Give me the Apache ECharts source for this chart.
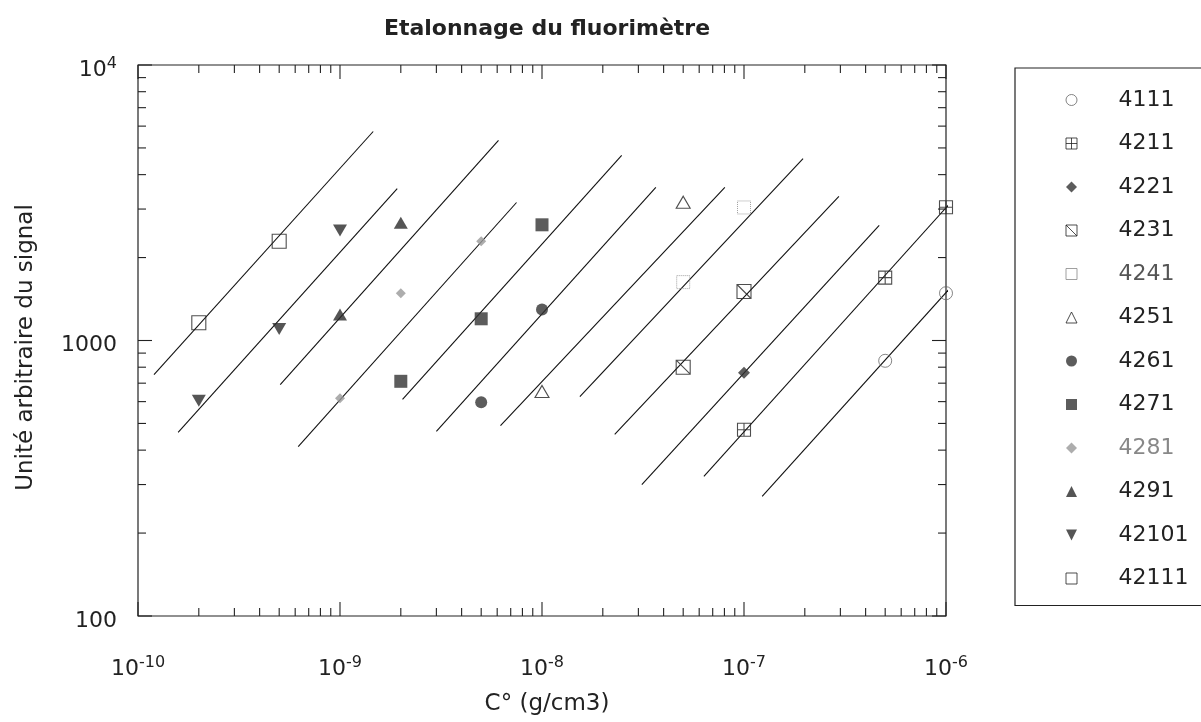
<!DOCTYPE html>
<html><head><meta charset="utf-8">
<script src="https://cdn.jsdelivr.net/npm/echarts@6/dist/echarts.min.js"></script>
<style>html,body{margin:0;padding:0;background:#fff}#c{width:1201px;height:722px}</style>
</head><body><div id="c"></div>
<script>
// ---- data ----
const seriesNames = ['4111','4211','4221','4231','4241','4251','4261','4271','4281','4291','42101','42111'];
const pts4111  = [[5e-7, 844], [1e-6, 1485]];
const pts4211  = [[1e-7, 474], [5e-7, 1692], [1e-6, 3044]];
const pts4221  = [[1e-7, 763]];
const pts4231  = [[5e-8, 800], [1e-7, 1506]];
const pts4241  = [[5e-8, 1629], [1e-7, 3040]];
const pts4251  = [[1e-8, 653], [5e-8, 3177]];
const pts4261  = [[5e-9, 597], [1e-8, 1296]];
const pts4271  = [[2e-9, 711], [5e-9, 1199], [1e-8, 2630]];
const pts4281  = [[1e-9, 617], [2e-9, 1485], [5e-9, 2293]];
const pts4291  = [[1e-9, 1243], [2e-9, 2675]];
const pts42101 = [[2e-10, 605], [5e-10, 1102], [1e-9, 2507]];
const pts42111 = [[2e-10, 1160], [5e-10, 2293]];
// calibration lines (end points)
const fit4111  = [[1.23e-7, 272], [1.51e-6, 2086]];
const fit4211  = [[6.33e-8, 321], [1.27e-6, 3684]];
const fit4221  = [[3.12e-8, 300], [4.67e-7, 2615]];
const fit4231  = [[2.29e-8, 456], [2.95e-7, 3333]];
const fit4241  = [[1.54e-8, 626], [1.96e-7, 4577]];
const fit4251  = [[6.23e-9, 491], [8.04e-8, 3593]];
const fit4261  = [[3.0e-9, 468], [3.66e-8, 3593]];
const fit4271  = [[2.04e-9, 611], [2.48e-8, 4694]];
const fit4281  = [[6.21e-10, 412], [7.48e-9, 3169]];
const fit4291  = [[5.06e-10, 692], [6.09e-9, 5321]];
const fit42101 = [[1.58e-10, 464], [1.92e-9, 3562]];
const fit42111 = [[1.2e-10, 752], [1.46e-9, 5736]];
// axes
const xDecades = [-10, -9, -8, -7, -6];
const xTickLabels = ['10^-10', '10^-9', '10^-8', '10^-7', '10^-6'];
const yDecades = [2, 3, 4];
const yTickLabels = ['100', '1000', '10^4'];
const minorMult = [2, 3, 4, 5, 6, 7, 8, 9];

const pointSets = [pts4111, pts4211, pts4221, pts4231, pts4241, pts4251, pts4261, pts4271, pts4281, pts4291, pts42101, pts42111];
const fitSets = [fit4111, fit4211, fit4221, fit4231, fit4241, fit4251, fit4261, fit4271, fit4281, fit4291, fit42101, fit42111];

const FONT = '"DejaVu Sans", "Liberation Sans", Arial, sans-serif';
const INK = '#222';
const CLEAR = 'rgba(0,0,0,0)';

const markerStyles = [
  {symbol: 'circle', size: 13, item: {color: CLEAR, borderColor: '#666', borderWidth: 1}},
  {symbol: 'path://M0,0H10V10H0ZM5,0V10M0,5H10', size: 13, item: {color: CLEAR, borderColor: INK, borderWidth: 1.1}},
  {symbol: 'diamond', size: 12, item: {color: '#333'}},
  {symbol: 'path://M0,0H10V10H0ZM0,0L10,10', size: 14, item: {color: CLEAR, borderColor: INK, borderWidth: 1.1}},
  {symbol: 'rect', size: 13, item: {color: CLEAR, borderColor: '#888', borderWidth: 1, borderType: 'dotted'}},
  {symbol: 'triangle', size: [14, 12], item: {color: CLEAR, borderColor: INK, borderWidth: 1.1}},
  {symbol: 'circle', size: 12, item: {color: '#333'}},
  {symbol: 'rect', size: 13, item: {color: '#333'}},
  {symbol: 'diamond', size: 10, item: {color: '#999'}},
  {symbol: 'triangle', size: [14, 12], item: {color: '#2a2a2a'}},
  {symbol: 'path://M0,0L10,0L5,10Z', size: [14, 12], item: {color: '#2a2a2a'}},
  {symbol: 'rect', size: 14, item: {color: CLEAR, borderColor: INK, borderWidth: 1.1}}
];
const legendTextColors = {'4241': '#555', '4281': '#888'};

// tick values (decades and minor ticks)
const xTicks = [];
xDecades.forEach(function (e, i) {
  xTicks.push([Math.pow(10, e), 0]);
  if (i < xDecades.length - 1) minorMult.forEach(function (m) { xTicks.push([m * Math.pow(10, e), 1]); });
});
const yTicks = [];
yDecades.forEach(function (e, i) {
  yTicks.push([Math.pow(10, e), 0]);
  if (i < yDecades.length - 1) minorMult.forEach(function (m) { yTicks.push([m * Math.pow(10, e), 1]); });
});
const X_MIN = Math.pow(10, xDecades[0]), X_MAX = Math.pow(10, xDecades[xDecades.length - 1]);
const Y_MIN = Math.pow(10, yDecades[0]), Y_MAX = Math.pow(10, yDecades[yDecades.length - 1]);

const tickData = [];
xTicks.forEach(function (t) { tickData.push([t[0], Y_MIN, t[1], 0]); });
yTicks.forEach(function (t) { tickData.push([X_MIN, t[0], t[1], 1]); });

function richLabel(s) {
  const p = s.split('^');
  return p.length > 1 ? '{b|' + p[0] + '}{s|' + p[1] + '}' : '{b|' + s + '}';
}
function labelFor(v, decades, labels) {
  const e = Math.round(Math.log10(v));
  const i = decades.indexOf(e);
  return i >= 0 ? richLabel(labels[i]) : '';
}
const richDef = {
  b: {fontSize: 22, fontFamily: FONT, color: INK, lineHeight: 28},
  s: {fontSize: 16, fontFamily: FONT, color: INK, verticalAlign: 'top', lineHeight: 10}
};

const series = [];
seriesNames.forEach(function (n, i) {
  series.push({
    name: 'fit' + n, type: 'line', data: fitSets[i], showSymbol: false, clip: false, silent: true,
    lineStyle: {color: '#111', width: 1.1}, z: 2
  });
});
seriesNames.forEach(function (n, i) {
  const ms = markerStyles[i];
  series.push({
    name: n, type: 'scatter', data: pointSets[i], symbol: ms.symbol, symbolSize: ms.size,
    itemStyle: ms.item, z: 3
  });
});
series.push({
  type: 'custom', name: 'ticks', data: tickData, silent: true, z: 4,
  encode: {x: 0, y: 1},
  renderItem: function (params, api) {
    const major = api.value(2) === 0;
    const len = major ? 14 : 8;
    const isX = api.value(3) === 0;
    const st = {stroke: INK, lineWidth: 1.1};
    if (isX) {
      const v = api.value(0);
      const b = api.coord([v, Y_MIN]);
      const t = api.coord([v, Y_MAX]);
      return {type: 'group', children: [
        {type: 'line', shape: {x1: b[0], y1: b[1], x2: b[0], y2: b[1] - len}, style: st},
        {type: 'line', shape: {x1: t[0], y1: t[1], x2: t[0], y2: t[1] + len}, style: st}
      ]};
    } else {
      const v = api.value(1);
      const l = api.coord([X_MIN, v]);
      const r = api.coord([X_MAX, v]);
      return {type: 'group', children: [
        {type: 'line', shape: {x1: l[0], y1: l[1], x2: l[0] + len, y2: l[1]}, style: st},
        {type: 'line', shape: {x1: r[0], y1: r[1], x2: r[0] - len, y2: r[1]}, style: st}
      ]};
    }
  }
});

const chart = echarts.init(document.getElementById('c'), null, {renderer: 'canvas'});
chart.setOption({
  animation: false,
  backgroundColor: '#fff',
  textStyle: {fontFamily: FONT},
  title: {
    text: 'Etalonnage du fluorimètre', left: 542, top: 13, textAlign: 'center',
    textStyle: {fontSize: 22, fontWeight: 'bold', color: INK, fontFamily: FONT}
  },
  grid: {left: 138, right: 255, top: 65, bottom: 106, show: true, borderColor: INK, borderWidth: 1.2, backgroundColor: CLEAR},
  xAxis: {
    type: 'log', logBase: 10, min: X_MIN, max: X_MAX,
    name: 'C° (g/cm3)', nameLocation: 'middle', nameGap: 77,
    nameTextStyle: {fontSize: 23, color: INK, fontFamily: FONT, padding: [0, 0, 0, 10]},
    axisLine: {show: false}, axisTick: {show: false}, splitLine: {show: false}, minorTick: {show: false},
    axisLabel: {margin: 39, formatter: function (v) { return labelFor(v, xDecades, xTickLabels); }, rich: richDef}
  },
  yAxis: {
    type: 'log', logBase: 10, min: Y_MIN, max: Y_MAX,
    name: 'Unité arbitraire du signal', nameLocation: 'middle', nameGap: 100, nameRotate: 90,
    nameTextStyle: {fontSize: 23, color: INK, fontFamily: FONT, padding: [0, 14, 0, 0]},
    axisLine: {show: false}, axisTick: {show: false}, splitLine: {show: false}, minorTick: {show: false},
    axisLabel: {margin: 21, padding: [10, 0, 0, 0], formatter: function (v) { return labelFor(v, yDecades, yTickLabels); }, rich: richDef}
  },
  legend: {
    orient: 'vertical', left: 1015, top: 68,
    padding: [20, 90, 15, 50.5],
    itemWidth: 11, itemHeight: 11, itemGap: 19.5,
    borderColor: INK, borderWidth: 1.2,
    selectedMode: false,
    textStyle: {fontSize: 22, color: INK, fontFamily: FONT, padding: [0, 0, 0, 36.5], lineHeight: 24},
    itemStyle: {borderWidth: 1},
    data: seriesNames.map(function (n) {
      return legendTextColors[n] ? {name: n, textStyle: {color: legendTextColors[n]}} : {name: n};
    })
  },
  series: series
});
</script></body></html>
